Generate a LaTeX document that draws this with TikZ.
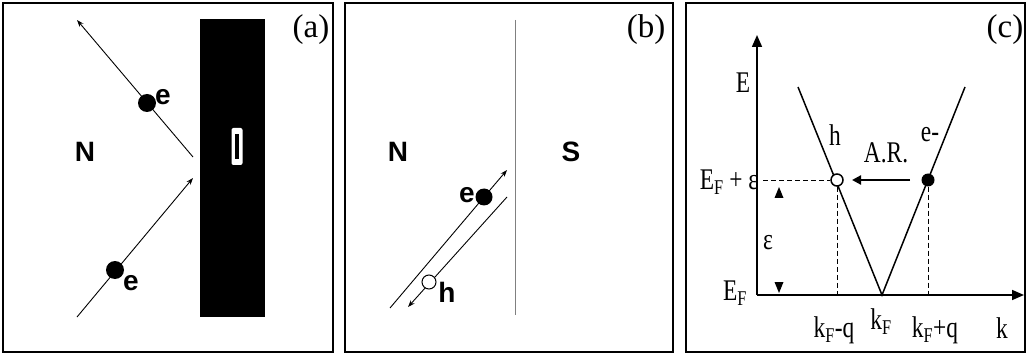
\documentclass[tikz,border=0pt]{standalone}
\usepackage{fontspec}
\setmainfont{Liberation Serif}
\newfontfamily\arialf{Liberation Sans}
\usetikzlibrary{arrows.meta}
\newcommand{\cond}[1]{\scalebox{0.78}[1]{#1}}
\tikzset{
  frame/.style={draw, line width=1.3pt},
  ray/.style={line width=0.9pt},
  rayarrow/.style={ray, -{Stealth[length=7pt,width=5pt]}},
  edot/.style={circle, fill=black, inner sep=0pt, minimum size=18pt},
  hdot/.style={circle, draw, fill=white, line width=1pt, inner sep=0pt, minimum size=14pt},
  sflab/.style={font=\arialf\bfseries\fontsize{28}{30}\selectfont, inner sep=0pt},
  plab/.style={font=\fontsize{33}{35}\selectfont, inner sep=0pt},
  clab/.style={font=\fontsize{30}{32}\selectfont, inner sep=0pt},
  axis/.style={line width=1.6pt, -{Triangle[length=12pt,width=10pt]}},
  vline/.style={line width=1.5pt},
  dashln/.style={dashed, dash pattern=on 5pt off 3pt, line width=0.9pt},
}
\begin{document}
\begin{tikzpicture}[x=1pt,y=-1pt]
\useasboundingbox (0,0) rectangle (1027,355);
% ---------- panel (a)
\node[frame, minimum width=330pt, minimum height=349pt, inner sep=0pt] (fa) at (168,177.5) {};
\node[fill=black, minimum width=65pt, minimum height=298pt, inner sep=0pt] (wall) at (232.5,168) {};
\node[plab] (la) at (311,30) {(a)};
\node[sflab] (Na) at (85,152) {N};
\node[fill=white, rounded corners=2pt, minimum width=11pt, minimum height=37pt, inner sep=0pt] (Ibox) at (237,146.5) {};
\node[fill=black, minimum width=3.5pt, minimum height=25pt, inner sep=0pt] (Ibar) at (237,147) {};
\coordinate (ra1) at (193,157);
\coordinate (ta1) at (77,20);
\coordinate (sa2) at (77,317);
\coordinate (ra2) at (193,178);
\draw[rayarrow] (ra1) -- (ta1);
\draw[rayarrow] (sa2) -- (ra2);
\node[edot] (ea1) at (147,103) {};
\node[edot] (ea2) at (115,270) {};
\node[sflab] (lea1) at (163,97) {e};
\node[sflab] (lea2) at (131,283) {e};
% ---------- panel (b)
\node[frame, minimum width=328pt, minimum height=349pt, inner sep=0pt] (fb) at (509,177.5) {};
\coordinate (ib1) at (515,20);
\coordinate (ib2) at (515,315);
\draw[gray, line width=0.9pt] (ib1) -- (ib2);
\node[plab] (lb) at (646,30) {(b)};
\node[sflab] (Nb) at (398,152) {N};
\node[sflab] (Sb) at (571,152) {S};
\coordinate (b1s) at (390,308);
\coordinate (b1e) at (507,170);
\coordinate (b2s) at (507,197);
\coordinate (b2e) at (408,307);
\draw[ray] (b1s) -- (484,197);
\draw[rayarrow] (484,197) -- (b1e);
\draw[rayarrow] (b2s) -- (b2e);
\node[edot, minimum size=17pt] (eb) at (484,197) {};
\node[hdot] (hb) at (429,282) {};
\node[sflab] (leb) at (467,195) {e};
\node[sflab] (lhb) at (447,292) {h};
% ---------- panel (c)
\node[frame, minimum width=339pt, minimum height=349pt, inner sep=0pt] (fc) at (855.5,177.5) {};
\node[plab] (lc) at (1005,30) {(c)};
\coordinate (O) at (757,295);
\coordinate (Ey) at (757,35);
\coordinate (kx) at (1024,295);
\draw[axis] (O) -- (Ey);
\draw[axis] (O) -- (kx);
\coordinate (vl) at (798,87);
\coordinate (vv) at (882,295);
\coordinate (vr) at (965,87);
\draw[vline] (vl) -- (vv) -- (vr);
\coordinate (dh0) at (763,180);
\coordinate (hk) at (837,295);
\coordinate (ek) at (928,295);
\node[hdot, minimum size=12pt, line width=1.5pt] (hc) at (837,180) {};
\node[edot, minimum size=13pt] (ec) at (928,180) {};
\draw[dashln] (dh0) -- (hc.west);
\draw[dashln] (hc.south) -- (hk);
\draw[dashln] (ec.south) -- (ek);
\coordinate (ars) at (910,180);
\coordinate (are) at (852,180);
\draw[line width=2.2pt, -{Triangle[length=9pt,width=9pt]}] (ars) -- (are);
\node[clab] (lAR) at (886,153) {\cond{A.R.}};
\node[clab] (lh) at (835,135) {\cond{h}};
\node[clab] (le) at (930,135) {\cond{e-}};
\node[clab] (lE) at (743,83) {\cond{E}};
\node[clab] (lEFe) at (729,182) {\cond{E\textsubscript{F} + ε}};
\node[clab] (leps) at (768,243) {\cond{ε}};
\node[clab] (lEF) at (735,293) {\cond{E\textsubscript{F}}};
\node[clab] (lkq1) at (834,330) {\cond{k\textsubscript{F}-q}};
\node[clab] (lkF) at (881,322) {\cond{k\textsubscript{F}}};
\node[clab] (lkq2) at (935,330) {\cond{k\textsubscript{F}+q}};
\node[clab] (lk) at (1002,328) {\cond{k}};
\fill (774.5,198) -- (783.5,198) -- (779,187) -- cycle;
\fill (774.5,282) -- (783.5,282) -- (779,293) -- cycle;
\end{tikzpicture}
\end{document}
